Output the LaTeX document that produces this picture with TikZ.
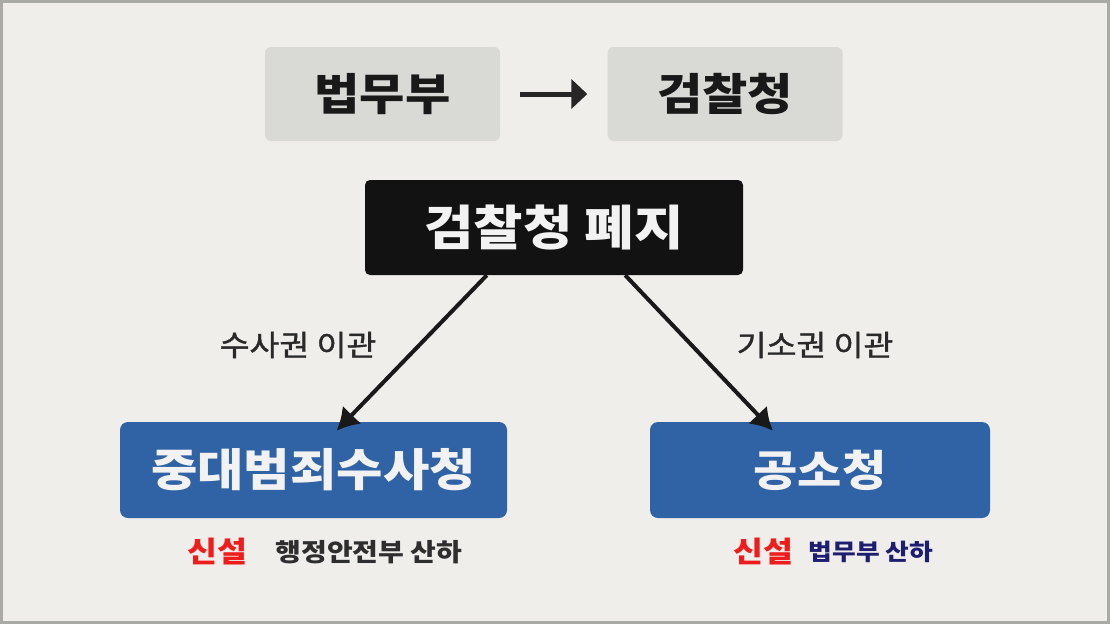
\documentclass[tikz,border=0pt]{standalone}
\usepackage{fontspec}
\setmainfont{Noto Sans CJK KR}
\newfontfamily\krwide{Noto Sans CJK KR}[FakeStretch=1.12]
\newfontfamily\krmid{Noto Sans CJK KR}[FakeStretch=1.12,FakeBold=1.3]
\usetikzlibrary{arrows.meta}

\definecolor{paper}{HTML}{EFEEEA}
\definecolor{frame}{HTML}{A9A9A5}
\definecolor{ministry}{HTML}{D9D9D6}
\definecolor{office}{HTML}{2F63A6}
\definecolor{newred}{HTML}{EE1C1C}
\definecolor{navy}{HTML}{1D1D72}
\definecolor{ink}{HTML}{2E2E2E}

\begin{document}
\begin{tikzpicture}[
x=1pt,y=-1pt,
font=\krwide\bfseries,
agency/.style={rectangle,rounded corners=6pt,fill=ministry,text=black!90,minimum width=235pt,minimum height=94pt,inner sep=0pt,font=\krwide\fontsize{44}{44}\selectfont\bfseries},
abolished/.style={rectangle,rounded corners=5pt,fill=black!93,text=white!95!black,minimum width=378pt,minimum height=95pt,inner sep=0pt,font=\krwide\fontsize{48}{48}\selectfont\bfseries},
newoffice/.style={rectangle,rounded corners=8pt,fill=office,text=white!95!black,minimum height=96pt,inner sep=0pt,font=\krwide\fontsize{45}{45}\selectfont\bfseries},
transfer/.style={text=ink!90!black,font=\krmid\fontsize{29}{29}\selectfont},
newtag/.style={text=newred,font=\krwide\fontsize{29}{29}\selectfont\bfseries},
under/.style={font=\krwide\fontsize{25}{25}\selectfont\bfseries},
link/.style={-{Latex[length=22pt,width=26pt]}, line width=4pt, draw=black!90},
]

% Paper and frame
\useasboundingbox (0,0) rectangle (1110,624);
\fill[paper] (0,0) rectangle (1110,624);
\draw[frame,line width=3pt] (1.5,1.5) rectangle (1108.5,622.5);

% Ministry -> prosecution
\node[agency] (justice) at (382.5,94) {법무부};
\node[agency] (prosecution) at (725,94) {검찰청};
\draw[-{Triangle[length=16pt,width=29pt]}, line width=5pt, draw=black!85]
  ([xshift=20pt]justice.east) -- ([xshift=-20pt]prosecution.west);

% Abolition
\node[abolished] (abolish) at (554,227.5) {검찰청 폐지};

% New offices
\node[newoffice,minimum width=387pt] (investigate) at (313.5,470) {중대범죄수사청};
\node[newoffice,minimum width=340pt,font=\krwide\fontsize{43}{43}\selectfont\bfseries] (indict) at (820,470) {공소청};

% Transfers
\draw[link] ([xshift=122pt]abolish.south west) -- ([xshift=23pt,yshift=-9pt]investigate.north);
\draw[link] ([xshift=-118pt]abolish.south east) -- ([xshift=-47pt,yshift=-9pt]indict.north);
\node[transfer] (invlabel) at (298,345) {수사권 이관};
\node[transfer] (indlabel) at (815,345) {기소권 이관};

% Notes under the offices
\node[newtag] (invnew) at (217,552) {신설};
\node[under,text=ink] (invunder) at (369,552) {행정안전부 산하};
\node[newtag] (indnew) at (763,552) {신설};
\node[under,text=navy,font=\krwide\fontsize{23}{23}\selectfont\bfseries] (indunder) at (871,552) {법무부 산하};
\end{tikzpicture}
\end{document}
